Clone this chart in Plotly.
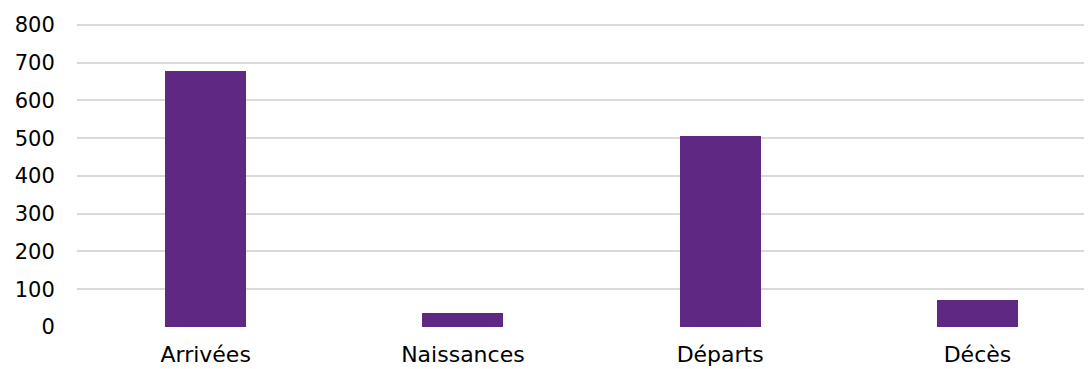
import plotly.graph_objects as go

# Data
categories = ["Arrivées", "Naissances", "Départs", "Décès"]
values = [678, 36, 505, 71]
y_ticks = [0, 100, 200, 300, 400, 500, 600, 700, 800]

BAR_COLOR = "#5f2882"
GRID_COLOR = "#d9d9d9"
TEXT_COLOR = "#000000"
FONT = "DejaVu Sans, Noto Sans, sans-serif"

fig = go.Figure()

fig.add_trace(
    go.Bar(
        x=list(range(len(categories))),
        y=values,
        width=0.315,
        marker=dict(color=BAR_COLOR, line=dict(width=0)),
        hovertext=categories,
    )
)

# the page body has an 8px margin, so margins are shifted to compensate
fig.update_layout(
    width=1092,
    height=369,
    margin=dict(l=69, r=6, t=15, b=50, autoexpand=False),
    plot_bgcolor="white",
    paper_bgcolor="white",
    showlegend=False,
    font=dict(family=FONT, size=20, color=TEXT_COLOR),
    bargap=0,
)

fig.update_xaxes(
    range=[-0.5, 3.453],
    tickmode="array",
    tickvals=list(range(len(categories))),
    ticktext=categories,
    showgrid=False,
    zeroline=False,
    showline=False,
    ticks="outside",
    ticklen=8,
    tickcolor="rgba(0,0,0,0)",
    automargin=False,
    tickfont=dict(family=FONT, size=22, color=TEXT_COLOR),
)

fig.update_yaxes(
    range=[0, 805],
    tickmode="array",
    tickvals=y_ticks,
    showgrid=True,
    gridcolor=GRID_COLOR,
    gridwidth=2,
    zeroline=False,
    showline=False,
    ticks="outside",
    ticklen=17,
    tickcolor="rgba(0,0,0,0)",
    automargin=False,
    tickfont=dict(family=FONT, size=21, color=TEXT_COLOR),
)

fig.write_html("out.html")
